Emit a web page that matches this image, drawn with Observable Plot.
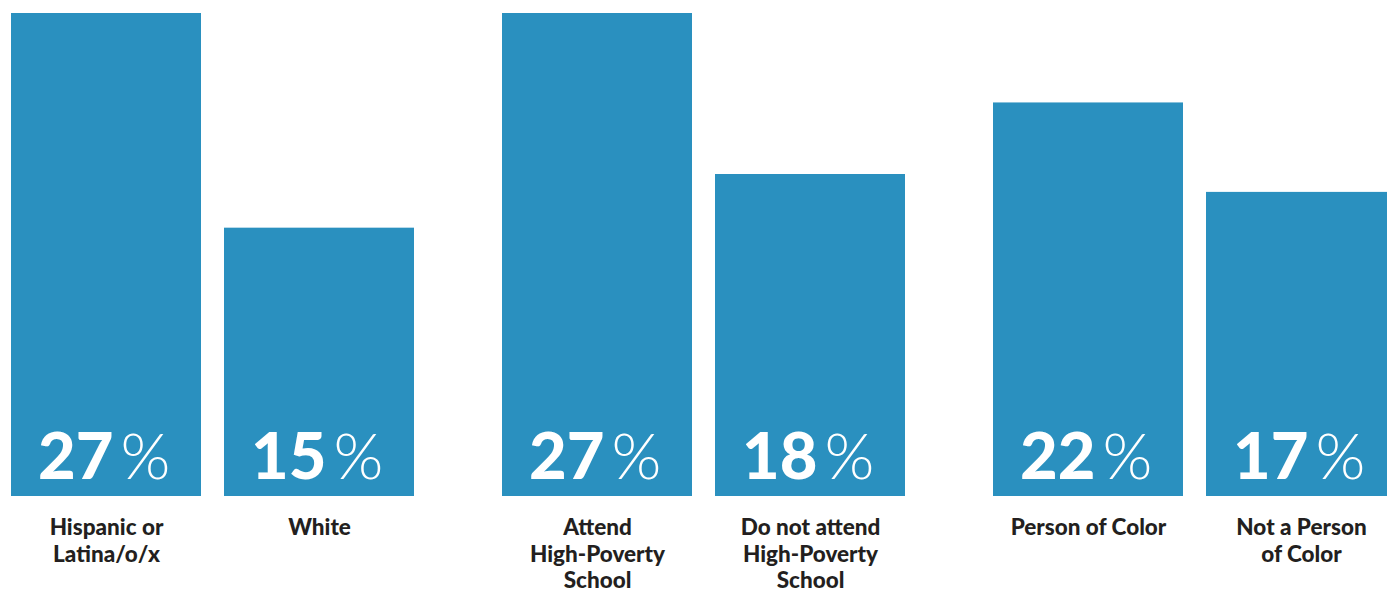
<!DOCTYPE html>
<html>
<head>
<meta charset="utf-8">
<script src="https://cdn.jsdelivr.net/npm/d3@7"></script>
<script src="https://cdn.jsdelivr.net/npm/@observablehq/plot@0.6"></script>
<style>
  html, body { margin: 0; padding: 0; background: #ffffff; overflow: hidden; }
  #chart { width: 1387px; height: 593px; overflow: hidden; }
  svg { display: block; max-width: none !important; }
</style>
</head>
<body>
<div id="chart"></div>
<script>
const groups = ["Ethnicity", "Poverty", "Race"];
const slots = ["first", "second"];
const categories = [
  "Hispanic or\nLatina/o/x",
  "White",
  "Attend\nHigh-Poverty\nSchool",
  "Do not attend\nHigh-Poverty\nSchool",
  "Person of Color",
  "Not a Person\nof Color"
];
const categoryGroup = ["Ethnicity", "Ethnicity", "Poverty", "Poverty", "Race", "Race"];
const categorySlot = ["first", "second", "first", "second", "first", "second"];
const values = [27, 15, 27, 18, 22, 17];

const data = categories.map((c, i) => ({
  label: c,
  group: categoryGroup[i],
  slot: categorySlot[i],
  value: values[i]
}));

const barColor = "#2a90bf";
const textColor = "#231f20";

const chart = Plot.plot({
  width: 1397,
  height: 593,
  marginLeft: 10,
  marginRight: 1,
  marginTop: 13,
  marginBottom: 97,
  style: { fontFamily: "Lato, 'Noto Sans', sans-serif", background: "#ffffff", maxWidth: "none" },
  fx: { domain: groups, paddingInner: 0.18, paddingOuter: 0, axis: null, label: null },
  x: { domain: slots, paddingInner: 0.108, paddingOuter: 0, axis: null, label: null },
  y: { domain: [0, 27], axis: null, label: null },
  marks: [
    Plot.barY(data, { fx: "group", x: "slot", y: "value", fill: barColor }),
    Plot.text(data, {
      fx: "group", x: "slot", frameAnchor: "bottom",
      text: d => String(d.value),
      fill: "#ffffff", fontSize: 65, fontWeight: 900,
      textAnchor: "end", lineAnchor: "bottom", dx: 7, dy: -18
    }),
    Plot.text(data, {
      fx: "group", x: "slot", frameAnchor: "bottom",
      text: () => "%",
      fill: "#ffffff", fontSize: 64, fontWeight: 300,
      textAnchor: "start", lineAnchor: "bottom", dx: 14, dy: -18
    }),
    Plot.text(data, {
      fx: "group", x: "slot", frameAnchor: "bottom",
      text: "label",
      fill: textColor, fontSize: 22.5, fontWeight: 900,
      textAnchor: "middle", lineAnchor: "top", lineHeight: 1.18, dy: 20
    })
  ]
});

document.getElementById("chart").appendChild(chart);
</script>
</body>
</html>
